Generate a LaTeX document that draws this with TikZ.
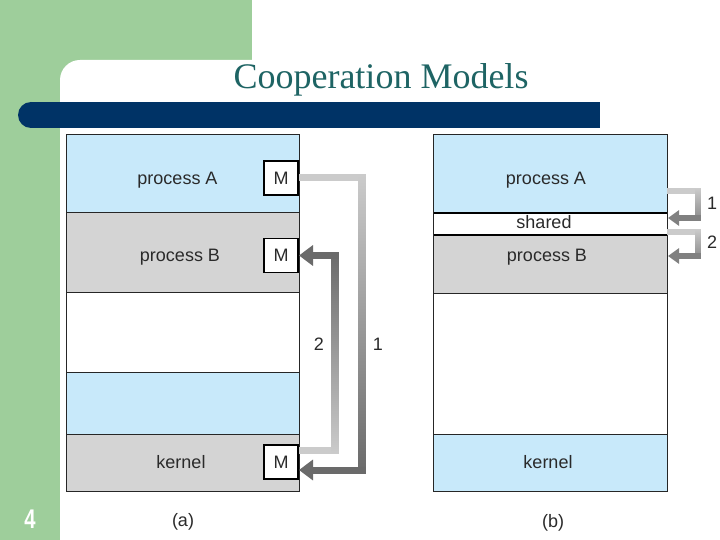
\documentclass[tikz,border=0pt]{standalone}
\usepackage{fontspec}
\setmainfont{Liberation Serif}
\setsansfont{Liberation Sans}
\usetikzlibrary{arrows.meta,calc}
\definecolor{sgreen}{HTML}{9ECE9B}
\definecolor{navy}{HTML}{003366}
\definecolor{teal2}{HTML}{1E6464}
\definecolor{lblue}{HTML}{C8E9FA}
\definecolor{lgray}{HTML}{D4D4D4}
\definecolor{gLight}{HTML}{CBCBCB}
\definecolor{gDark}{HTML}{6A6A6A}
\definecolor{txt}{HTML}{2A2A2A}
\begin{document}
\begin{tikzpicture}[x=1pt,y=-1pt,
  rowbox/.style={draw=black!85,line width=0.9pt,anchor=north west,inner sep=0pt,outer sep=0pt,minimum width=#1},
  mbox/.style={draw=black,line width=1.8pt,fill=white,minimum width=34pt,minimum height=34pt,inner sep=0pt,font=\sffamily\fontsize{18}{20}\selectfont,text=txt},
  lbl/.style={anchor=base,inner sep=0pt,font=\sffamily\fontsize{18}{20}\selectfont,text=txt},
  num/.style={anchor=base,inner sep=0pt,font=\sffamily\fontsize{18}{20}\selectfont,text=txt},
  bigarr/.style={line width=7pt},
  smallarr/.style={line width=5.5pt},
  bigtip/.style={-{Triangle[length=14pt,width=20pt]}},
  smalltip/.style={-{Triangle[length=11pt,width=15pt]}}]
\useasboundingbox (0,0) rectangle (720,540);
% slide background
\fill[white] (0,0) rectangle (720,540);
\fill[sgreen] (0,0) rectangle (252,90);
\fill[sgreen] (0,0) rectangle (60,540);
\fill[white] (60,300) [rounded corners=20pt] -- (60,60) -- (400,60) [sharp corners] -- (400,300) -- cycle;
\fill[navy] (31,102) rectangle (600,128);
\fill[navy] (31,115) circle (13);
\node[font=\fontsize{36}{40}\selectfont,text=teal2,inner sep=0pt] (title) at (381,80) {Cooperation Models};
\node[font=\sffamily\bfseries\fontsize{27}{28}\selectfont,text=white,inner sep=0pt,anchor=base] (pnum) at (30,528) {\scalebox{0.75}[1]{4}};

% ---------- (a) ----------
\node[rowbox=233pt,minimum height=78pt,fill=lblue] (aA) at (66,134) {};
\node[rowbox=233pt,minimum height=80pt,fill=lgray] (aB) at (66,212) {};
\node[rowbox=233pt,minimum height=80pt,fill=white] (aW) at (66,292) {};
\node[rowbox=233pt,minimum height=62pt,fill=lblue] (aL) at (66,372) {};
\node[rowbox=233pt,minimum height=57pt,fill=lgray] (aK) at (66,434) {};
\node[lbl] (tA) at (177.5,185) {process A};
\node[lbl] (tB) at (180,261) {process B};
\node[lbl] (tK) at (181,468) {kernel};
\node[mbox,anchor=east] (mA) at (299,178) {M};
\node[mbox,anchor=east] (mB) at (299,255.5) {M};
\node[mbox,anchor=east] (mK) at (299,462) {M};

% arrow 1: process A -> kernel
\coordinate (a1e) at ($(mK.east)+(0,8)$);
\draw[bigarr,gLight] (mA.east) -- ++(66.5,0);
\shade[top color=gLight,bottom color=gDark] ($(mA.east)+(59.5,-3.5)$) rectangle ($(a1e)+(66.5,3.5)$);
\draw[bigarr,gDark,bigtip] ($(a1e)+(66.5,0)$) -- (a1e);
% arrow 2: kernel -> process B
\coordinate (a2s) at ($(mK.east)+(0,-12)$);
\draw[bigarr,gLight] (a2s) -- ++(39.5,0);
\shade[top color=gDark,bottom color=gLight] ($(mB.east)+(32.5,-3.5)$) rectangle ($(a2s)+(39.5,3.5)$);
\draw[bigarr,gDark,bigtip] ($(mB.east)+(39.5,0)$) -- (mB.east);
\node[num] (n2) at (319,350) {2};
\node[num] (n1) at (378,350) {1};
\node[lbl] (capa) at (183,526) {(a)};

% ---------- (b) ----------
\node[rowbox=234pt,minimum height=79pt,fill=lblue] (bA) at (433,134) {};
\node[rowbox=234pt,minimum height=58pt,fill=lgray] (bB) at (433,235) {};
\node[rowbox=234pt,minimum height=141pt,fill=white] (bW) at (433,293) {};
\node[rowbox=234pt,minimum height=57pt,fill=lblue] (bK) at (433,434) {};
\node[rowbox=234pt,minimum height=22pt,fill=white,draw=none] (bS) at (433,213) {};
\draw[black,line width=1.8pt] (bS.north west) -- (bS.north east) (bS.south west) -- (bS.south east);
\draw[black!85,line width=0.9pt] (bA.north west) rectangle (bK.south east);
\node[lbl] (tbA) at (546,185) {process A};
\node[lbl] (tbS) at (544,229) {shared};
\node[lbl] (tbB) at (547,261) {process B};
\node[lbl] (tbK) at (548,468) {kernel};

% small arrow 1: process A -> shared
\coordinate (b1s) at ($(bA.south east)+(0,-22)$);
\coordinate (b1e) at ($(bS.east)+(1,-6)$);
\draw[smallarr,gLight] (b1s) -- ++(33.75,0);
\shade[top color=gLight,bottom color=gDark!80] ($(b1s)+(28.25,-2.75)$) rectangle ($(b1e)+(32.75,2.75)$);
\draw[smallarr,gDark!85,smalltip] ($(b1e)+(32.75,0)$) -- (b1e);
% small arrow 2: shared -> process B
\coordinate (b2s) at ($(bS.south east)+(0,-3)$);
\coordinate (b2e) at ($(bB.north east)+(1,21)$);
\draw[smallarr,gLight] (b2s) -- ++(33.75,0);
\shade[top color=gLight,bottom color=gDark!80] ($(b2s)+(28.25,-2.75)$) rectangle ($(b2e)+(32.75,2.75)$);
\draw[smallarr,gDark!85,smalltip] ($(b2e)+(32.75,0)$) -- (b2e);
\node[num] (m1) at (712,210) {1};
\node[num] (m2) at (712,248) {2};
\node[lbl] (capb) at (553,527) {(b)};
\end{tikzpicture}
\end{document}
